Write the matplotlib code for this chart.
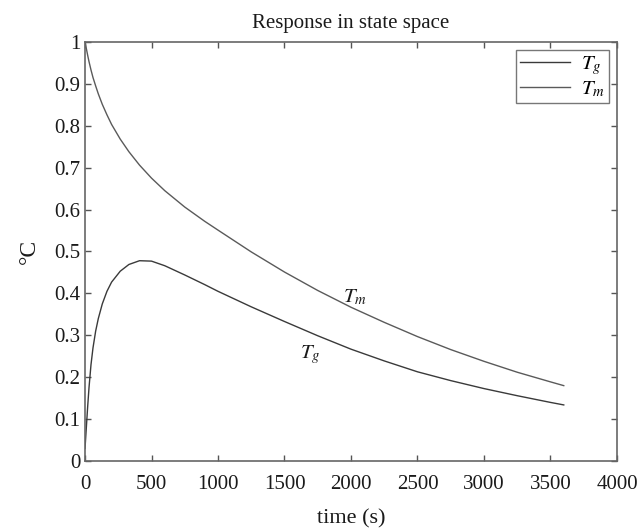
import matplotlib
matplotlib.use("Agg")
import matplotlib.pyplot as plt

# Data
time_s = [0, 10, 20, 30, 45, 60, 80, 100, 130, 165, 200, 265, 330, 410, 500,
          600, 750, 900, 1000, 1250, 1500, 1750, 2000, 2250, 2500, 2750, 3000,
          3250, 3500, 3600]
T_g = [0.03, 0.08, 0.13, 0.175, 0.23, 0.27, 0.31, 0.34, 0.375, 0.405, 0.427,
       0.453, 0.469, 0.478, 0.477, 0.466, 0.444, 0.421, 0.405, 0.368, 0.333,
       0.299, 0.267, 0.239, 0.213, 0.192, 0.173, 0.156, 0.14, 0.134]
T_m = [1.0, 0.984, 0.968, 0.953, 0.933, 0.915, 0.895, 0.876, 0.851, 0.826,
       0.803, 0.768, 0.738, 0.706, 0.675, 0.645, 0.606, 0.572, 0.551, 0.499,
       0.451, 0.407, 0.367, 0.331, 0.297, 0.266, 0.238, 0.212, 0.189, 0.180]
x_ticks = [0, 500, 1000, 1500, 2000, 2500, 3000, 3500, 4000]
y_ticks = [0, 0.1, 0.2, 0.3, 0.4, 0.5, 0.6, 0.7, 0.8, 0.9, 1]
y_tick_labels = ["0", "0.1", "0.2", "0.3", "0.4", "0.5", "0.6", "0.7", "0.8", "0.9", "1"]
x_tick_labels = ["0", "500", "1000", "1500", "2000", "2500", "3000", "3500", "4000"]

plt.rcParams["font.family"] = ["Liberation Serif", "DejaVu Serif"]
plt.rcParams["mathtext.fontset"] = "stix"

fig = plt.figure(figsize=(6.44, 5.30), dpi=100)
ax = fig.add_axes([0.132, 0.130, 0.826, 0.791])

ax.plot(time_s, T_g, color="#3a3a3a", lw=1.0, label=r"$T_g$")
ax.plot(time_s, T_m, color="#5a5a5a", lw=1.0, label=r"$T_m$")

ax.set_xlim(0, 4000)
ax.set_ylim(0, 1)
ax.set_xticks(x_ticks)
ax.set_xticklabels(x_tick_labels)
ax.set_yticks(y_ticks)
ax.set_yticklabels(y_tick_labels)
ax.tick_params(direction="in", top=True, right=True, length=4, width=1,
               colors="#555555", labelcolor="#1a1a1a", labelsize=15)
ax.tick_params(axis="x", pad=10)
ax.tick_params(axis="y", pad=3.5)
for s in ax.spines.values():
    s.set_color("#666666")
    s.set_linewidth(1.2)

ax.set_title("Response in state space", fontsize=15, color="#1a1a1a", pad=10)
ax.set_xlabel("time (s)", fontsize=16, color="#1a1a1a", labelpad=11)
ax.set_ylabel("°C", fontsize=17, color="#1a1a1a", labelpad=10)

ax.text(2028, 0.39, r"$T_m$", fontsize=15, color="#1a1a1a", ha="center", va="center")
ax.text(1690, 0.255, r"$T_g$", fontsize=15, color="#1a1a1a", ha="center", va="center")

leg = ax.legend(loc="upper right", fontsize=15, frameon=True, fancybox=False,
                edgecolor="#555555", handlelength=2.4, borderpad=0.2,
                labelspacing=0.1, handletextpad=0.5, borderaxespad=0.4)
leg.get_frame().set_linewidth(1.0)

fig.savefig("out.png", dpi=100, facecolor="white")
